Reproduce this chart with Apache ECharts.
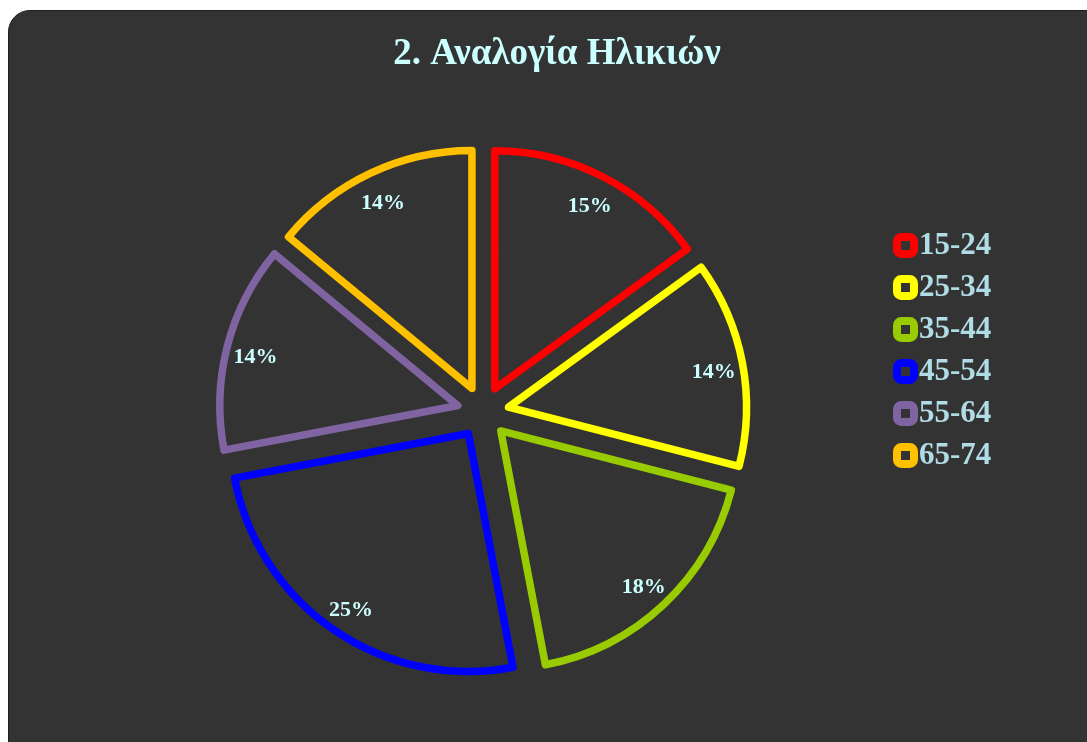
<!DOCTYPE html>
<html>
<head>
<meta charset="utf-8">
<script src="https://cdn.jsdelivr.net/npm/echarts@6/dist/echarts.min.js"></script>
<style>
  html, body { margin: 0; padding: 0; background: #fff; overflow: hidden; }
  .panel {
    position: absolute; left: 8px; top: 10px; width: 1100px; height: 760px;
    background: #333333; border: 1px solid #1e1e1e; border-radius: 22px;
  }
  #chart { position: absolute; left: 0; top: 0; width: 1087px; height: 742px; }
</style>
</head>
<body>
<div class="panel"></div>
<div id="chart"></div>
<script>
  // 数据
  const ageGroups = ['15-24', '25-34', '35-44', '45-54', '55-64', '65-74']
  const shares = [15, 14, 18, 25, 14, 14]
  const sliceColors = ['#ff0000', '#ffff00', '#99cc00', '#0000ff', '#8064a2', '#ffc000']

  const serif = '"Liberation Serif", "DejaVu Serif", serif'
  const center = [483, 412]

  const chart = echarts.init(document.getElementById('chart'))

  const sliceData = ageGroups.map((name, i) => ({
    name,
    value: shares[i],
    selected: true,
    itemStyle: { color: '#333333', borderColor: sliceColors[i] },
    select: { itemStyle: { color: '#333333', borderColor: sliceColors[i] } }
  }))

  // 只用于显示百分比标签
  const labelData = ageGroups.map((name, i) => ({ name, value: shares[i] }))

  const option = {
    backgroundColor: 'transparent',
    animation: false,
    title: {
      text: '2. Αναλογία Ηλικιών',
      left: 552,
      top: 31,
      textAlign: 'center',
      textStyle: { fontFamily: serif, fontSize: 37, fontWeight: 'bold', color: '#ccffff' }
    },
    legend: {
      orient: 'vertical',
      left: 893,
      top: 230,
      padding: 0,
      icon: 'roundRect',
      itemWidth: 17,
      itemHeight: 17,
      itemGap: 11,
      selectedMode: false,
      data: ageGroups.map((name, i) => ({
        name,
        itemStyle: { color: '#333333', borderColor: sliceColors[i], borderWidth: 8 }
      })),
      textStyle: {
        fontFamily: serif, fontSize: 31, lineHeight: 31, fontWeight: 'bold',
        color: '#b0dce6', padding: [0, 0, 0, 0]
      }
    },
    series: [
      {
        type: 'pie',
        center,
        radius: 238,
        startAngle: 90,
        clockwise: true,
        selectedMode: 'multiple',
        selectedOffset: 26,
        avoidLabelOverlap: false,
        silent: true,
        label: { show: false },
        labelLine: { show: false },
        itemStyle: { borderWidth: 7.5, borderJoin: 'round' },
        emphasis: { disabled: true },
        data: sliceData
      },
      {
        type: 'pie',
        center: [483, 416],
        radius: [222, 242],
        startAngle: 90,
        clockwise: true,
        silent: true,
        avoidLabelOverlap: false,
        itemStyle: { color: 'transparent', borderWidth: 0 },
        label: {
          show: true,
          position: 'inside',
          formatter: '{c}%',
          fontFamily: serif,
          fontSize: 22,
          fontWeight: 'bold',
          color: '#ccffff'
        },
        labelLine: { show: false },
        emphasis: { disabled: true },
        data: labelData
      }
    ]
  }

  chart.setOption(option)

  window.addEventListener('resize', () => chart.resize())
</script>
</body>
</html>
